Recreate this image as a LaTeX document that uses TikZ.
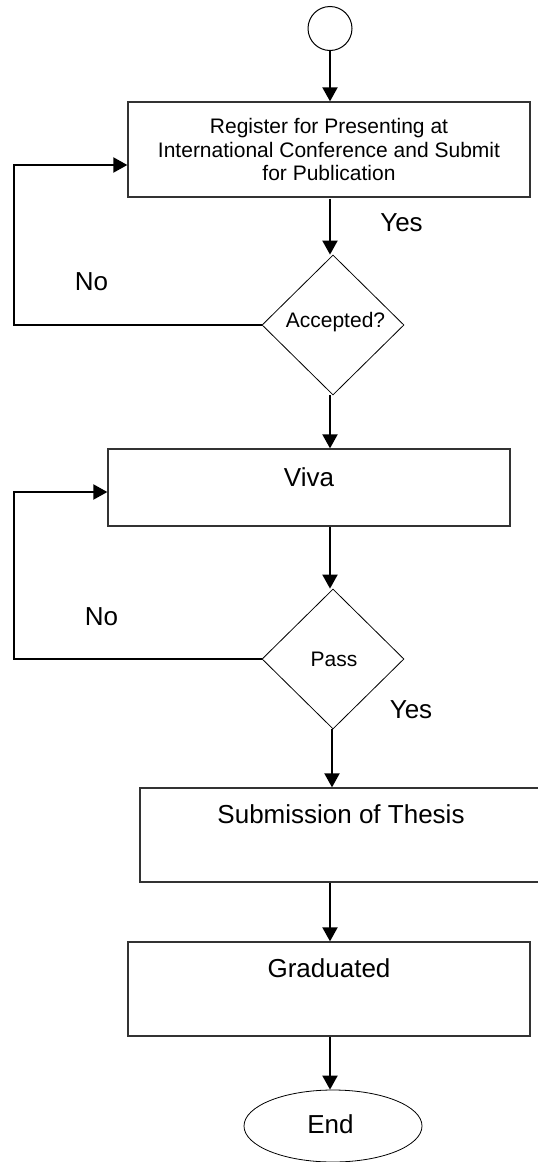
\documentclass[tikz,border=0pt]{standalone}
\usepackage{fontspec}
\setmainfont{Liberation Sans}
\usetikzlibrary{arrows.meta,shapes.geometric}
\begin{document}
\begin{tikzpicture}[x=1pt,y=-1pt,
  arr/.style={line width=2pt, -{Triangle[width=15pt,length=14pt]}},
  loopline/.style={line width=2pt},
  procbox/.style={draw=black!80, line width=1.3pt, rectangle, minimum width=402pt, inner sep=0pt},
  bigfont/.style={font=\fontsize{26}{30}\selectfont},
  smallfont/.style={font=\fontsize{21}{23.5}\selectfont},
  decision/.style={draw=black, line width=0.8pt, diamond, aspect=1, inner sep=0pt, minimum width=142pt, minimum height=140pt},
  lbl/.style={bigfont, inner sep=0pt}
]
\useasboundingbox (0,0) rectangle (538,1162);
\clip (0,0) rectangle (538,1162);

% nodes
\node[draw=black, line width=1pt, circle, minimum size=44pt, inner sep=0pt] (start) at (330,28.5) {};
\node[procbox, minimum height=95pt, smallfont, align=center] (reg) at (329,149.5)
  {Register for Presenting at\\International Conference and Submit\\for Publication};
\node[decision] (dia1) at (333,325) {};
\node[smallfont, inner sep=0pt] (dia1t) at (335.5,322) {Accepted?};
\node[procbox, minimum height=77pt, bigfont, text height=20pt, text depth=22.4pt] (viva) at (309,487.5) {Viva};
\node[decision] (dia2) at (333,659) {};
\node[smallfont, inner sep=0pt] (dia2t) at (334,659) {Pass};
\node[procbox, minimum height=94pt, bigfont, text height=20pt, text depth=43.4pt] (sub) at (341,835) {Submission of Thesis};
\node[procbox, minimum height=94pt, bigfont, text height=20pt, text depth=43.4pt] (grad) at (329,989) {Graduated};
\node[draw=black, line width=0.8pt, ellipse, minimum width=178pt, minimum height=72pt, inner sep=0pt, bigfont] (end) at (333,1126) {};
\node[lbl] (endt) at (330.5,1124) {End};

% labels
\node[lbl] (yes1) at (401.5,223) {Yes};
\node[lbl] (no1) at (91.5,282) {No};
\node[lbl] (no2) at (101.5,617) {No};
\node[lbl] (yes2) at (411,710) {Yes};

% loop corner coordinates
\coordinate (c1) at (13.5,165);
\coordinate (c2) at (13.5,492);

% connectors
\draw[arr] (start.south -| 330,0) -- (reg.north -| 330,0);
\draw[arr] (330,198.5) -- (dia1.north -| 330,0);
\draw[arr] (dia1.south -| 330,0) -- (viva.north -| 330,0);
\draw[arr] (viva.south -| 330,0) -- (dia2.north -| 330,0);
\draw[arr] (dia2.south -| 332,0) -- (sub.north -| 332,0);
\draw[arr] (sub.south -| 330,0) -- (grad.north -| 330,0);
\draw[arr] (grad.south -| 330,0) -- (end.north -| 330,0);

\draw[arr] (dia1.west) -| (c1) -- (c1 -| reg.west);
\draw[arr] (dia2.west) -| (c2) -- (c2 -| viva.west);
\end{tikzpicture}
\end{document}
